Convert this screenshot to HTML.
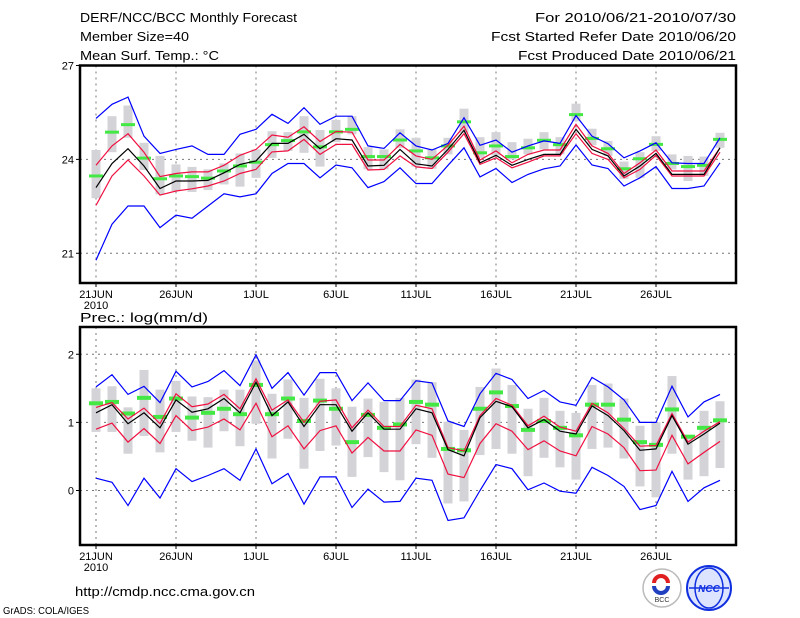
<!DOCTYPE html>
<html><head><meta charset="utf-8"><style>
html,body{margin:0;padding:0;background:#fff;width:800px;height:618px;overflow:hidden}
svg{display:block;font-family:"Liberation Sans",sans-serif}
</style></head><body>
<svg id="chart" width="800" height="618" viewBox="0 0 800 618" xmlns="http://www.w3.org/2000/svg">
<g font-size="13" fill="#000">
<text x="80" y="22" textLength="217" lengthAdjust="spacingAndGlyphs">DERF/NCC/BCC Monthly Forecast</text>
<text x="80" y="41" textLength="109" lengthAdjust="spacingAndGlyphs">Member Size=40</text>
<text x="80" y="60" textLength="139" lengthAdjust="spacingAndGlyphs">Mean Surf. Temp.: °C</text>
<text x="736" y="22" text-anchor="end" textLength="201" lengthAdjust="spacingAndGlyphs">For 2010/06/21-2010/07/30</text>
<text x="736" y="41" text-anchor="end" textLength="245" lengthAdjust="spacingAndGlyphs">Fcst Started Refer Date 2010/06/20</text>
<text x="736" y="60" text-anchor="end" textLength="218" lengthAdjust="spacingAndGlyphs">Fcst Produced Date 2010/06/21</text>
<text x="80" y="322" textLength="128" lengthAdjust="spacingAndGlyphs">Prec.: log(mm/d)</text>
<text x="75" y="596" textLength="180" lengthAdjust="spacingAndGlyphs">http://cmdp.ncc.cma.gov.cn</text>
<text x="3" y="614" font-size="10" textLength="86" lengthAdjust="spacingAndGlyphs">GrADS: COLA/IGES</text>
</g>
<g id="top"></g>
<g id="bot"></g>
<g>
<circle cx="662" cy="588" r="19" fill="#fff" stroke="#bbb" stroke-width="1.5"/>
<path d="M654 583 a7 7 0 0 1 14 0" fill="none" stroke="#e02020" stroke-width="4"/>
<path d="M668 586 a7 7 0 0 1 -14 0" fill="none" stroke="#2040c0" stroke-width="4"/>
<text x="662" y="602" font-size="7" text-anchor="middle" fill="#333">BCC</text>
</g>
<g>
<circle cx="709" cy="588" r="22" fill="#dde4ff" stroke="#1030e0" stroke-width="2"/>
<ellipse cx="709" cy="588" rx="14" ry="20" fill="none" stroke="#1030e0" stroke-width="1.5"/>
<line x1="689" y1="588" x2="729" y2="588" stroke="#1030e0" stroke-width="1.5"/>
<text x="709" y="592" font-size="10" font-style="italic" font-weight="bold" text-anchor="middle" fill="#1030e0">NCC</text>
</g>
</svg>
<script>
// ---- temperature data (°C) ----
const tBlueHi=[25.31,25.76,25.99,24.74,24.19,24.32,24.43,24.16,24.16,24.80,24.96,25.44,25.15,25.65,25.12,25.38,25.38,24.43,24.35,24.85,24.43,24.30,24.51,25.33,24.45,24.62,24.23,24.43,24.59,24.51,25.40,24.74,24.50,24.05,24.27,24.53,23.89,23.87,23.87,24.69];
const tBlueLo=[20.78,21.93,22.51,22.51,21.82,22.22,22.12,22.51,22.90,22.80,22.90,23.55,23.87,23.87,23.41,23.82,23.73,23.10,23.29,23.73,23.23,23.23,23.81,24.37,23.44,23.71,23.26,23.52,23.70,23.79,24.46,23.82,23.71,23.15,23.41,23.77,23.07,23.07,23.15,23.89];
const tRedHi=[23.81,24.43,24.82,24.23,23.45,23.55,23.60,23.60,23.81,24.13,24.32,24.78,24.71,25.04,24.57,24.89,24.87,23.98,23.98,24.48,24.11,24.00,24.45,25.06,23.98,24.27,23.89,24.16,24.30,24.30,25.12,24.43,24.19,23.55,23.89,24.30,23.63,23.63,23.63,24.37];
const tRedLo=[22.53,23.47,23.98,23.47,22.86,22.99,23.06,23.15,23.31,23.55,23.68,24.24,24.27,24.64,24.16,24.48,24.48,23.66,23.68,24.11,23.76,23.71,24.23,24.82,23.84,24.05,23.73,23.91,24.11,24.11,24.82,24.19,24.00,23.41,23.68,24.13,23.47,23.47,23.47,24.23];
const tMean=[23.10,23.87,24.34,23.79,23.07,23.31,23.31,23.33,23.57,23.84,23.95,24.51,24.51,24.80,24.34,24.66,24.62,23.79,23.81,24.32,23.86,23.79,24.32,24.93,23.89,24.13,23.81,24.00,24.16,24.16,24.96,24.32,24.11,23.47,23.79,24.19,23.52,23.52,23.52,24.37];
const tObs=[23.47,24.87,25.11,24.04,23.38,23.47,23.45,23.40,23.63,23.79,23.91,24.47,24.60,24.88,24.40,24.88,24.96,24.09,24.09,24.62,24.27,24.05,24.43,25.20,24.21,24.43,24.09,24.37,24.61,24.47,25.43,24.67,24.34,23.70,24.02,24.48,23.87,23.77,23.81,24.64];
const tBoxHi=[24.30,25.38,25.72,24.53,24.11,23.84,23.76,23.68,23.87,24.19,24.32,24.90,24.87,25.38,24.94,25.26,25.38,24.39,24.32,24.96,24.69,24.34,24.69,25.62,24.71,24.87,24.55,24.66,24.87,24.71,25.78,24.98,24.59,23.93,24.23,24.74,24.16,24.11,24.09,24.85];
const tBoxLo=[22.76,24.23,24.69,23.66,22.88,22.99,22.96,23.02,23.20,23.13,23.41,24.05,24.27,24.21,23.77,24.55,24.80,23.68,23.68,24.37,23.77,23.70,24.16,24.85,24.05,24.13,24.00,24.16,24.32,24.16,25.22,24.45,24.11,23.38,23.41,24.27,23.68,23.31,23.47,24.37];
const tTicks=[21,24,27];
// ---- precipitation data log(mm/d) ----
const pBlueHi=[1.52,1.70,1.41,1.53,1.29,1.75,1.52,1.60,1.76,1.54,1.99,1.50,1.73,1.40,1.73,1.73,1.32,1.58,1.32,1.32,1.61,1.58,1.02,0.94,1.42,1.72,1.63,1.35,1.47,1.30,1.25,1.66,1.52,1.33,1.00,1.00,1.53,1.08,1.30,1.41];
const pBlueLo=[0.18,0.12,-0.22,0.18,-0.11,0.32,0.13,0.22,0.32,0.15,0.61,0.10,0.25,-0.20,0.20,0.20,-0.25,0.02,-0.17,-0.16,0.18,0.15,-0.44,-0.40,0.00,0.38,0.32,0.01,0.11,-0.01,-0.04,0.34,0.22,0.06,-0.28,-0.22,0.28,-0.16,0.04,0.15];
const pRedHi=[1.22,1.29,1.05,1.21,0.98,1.42,1.23,1.27,1.41,1.20,1.64,1.18,1.33,1.00,1.31,1.33,0.92,1.18,0.94,0.94,1.25,1.20,0.63,0.58,1.10,1.35,1.25,0.95,1.09,0.93,0.87,1.28,1.14,0.91,0.65,0.66,1.13,0.71,0.87,1.01];
const pRedLo=[0.90,0.99,0.71,0.91,0.69,1.10,0.88,0.93,1.05,0.89,1.28,0.79,0.95,0.61,0.88,0.95,0.55,0.78,0.58,0.58,0.89,0.81,0.24,0.19,0.69,0.98,0.87,0.60,0.73,0.58,0.51,0.94,0.83,0.63,0.29,0.30,0.81,0.39,0.56,0.72];
const pMean=[1.14,1.26,0.98,1.14,0.92,1.33,1.15,1.20,1.35,1.14,1.59,1.10,1.30,0.94,1.26,1.26,0.87,1.14,0.90,0.90,1.20,1.14,0.60,0.51,1.07,1.31,1.23,0.92,1.04,0.87,0.83,1.24,1.10,0.88,0.59,0.61,1.10,0.68,0.83,0.99];
const pObs=[1.28,1.30,1.13,1.36,1.08,1.35,1.07,1.14,1.20,1.12,1.55,1.12,1.35,1.02,1.32,1.20,0.71,1.11,0.92,0.97,1.30,1.26,0.61,0.59,1.20,1.44,1.24,0.89,1.02,0.92,0.81,1.26,1.26,1.04,0.71,0.67,1.19,0.79,0.92,1.03];
const pBoxHi=[1.50,1.53,1.22,1.77,1.48,1.61,1.38,1.37,1.48,1.48,1.91,1.42,1.63,1.36,1.64,1.50,1.23,1.35,1.30,1.36,1.63,1.59,1.01,0.89,1.52,1.79,1.55,1.20,1.36,1.17,1.14,1.55,1.57,1.35,0.95,1.00,1.68,0.81,1.17,1.31];
const pBoxLo=[0.86,0.86,0.54,0.80,0.56,0.86,0.73,0.63,0.87,0.65,0.98,0.47,0.76,0.32,0.58,0.66,0.20,0.49,0.27,0.15,0.68,0.48,-0.19,-0.16,0.52,0.61,0.54,0.21,0.48,0.34,0.16,0.61,0.63,0.47,0.06,-0.10,0.54,0.16,0.21,0.33];
const pTicks=[0,1,2];
const xLabels=["21JUN","26JUN","1JUL","6JUL","11JUL","16JUL","21JUL","26JUL"];

const NS="http://www.w3.org/2000/svg";
function mk(parent,tag,attrs){const e=document.createElementNS(NS,tag);for(const k in attrs)e.setAttribute(k,attrs[k]);parent.appendChild(e);return e;}
const xs=i=>96+16*i;

function panel(g,y0,y1,vTop,vBot,ticks,d,prefix){
  const ys=v=>y0+(vTop-v)/(vTop-vBot)*(y1-y0);
  // grid
  for(let k=0;k<xLabels.length;k++){
    const x=xs(k*5);
    const gl=mk(g,'line',{x1:x,x2:x,y1:y0,y2:y1,stroke:'#777','stroke-dasharray':'2,4','stroke-width':1});
    
    
    const tk=mk(g,'line',{x1:x,x2:x,y1:y1,y2:y1+4,stroke:'#000','stroke-width':1});
    
    
    const t=mk(g,'text',{x:x,y:y1+15,'font-size':11,'text-anchor':'middle'});
    t.textContent=xLabels[k];
    
    
  }
  const yr=mk(g,'text',{x:96,y:y1+26,'font-size':11,'text-anchor':'middle'});
  yr.textContent='2010';
  
  
  ticks.forEach(v=>{
    const y=ys(v);
    const gl=mk(g,'line',{x1:80,x2:736,y1:y,y2:y,stroke:'#777','stroke-dasharray':'2,4','stroke-width':1});
    
    
    const tk=mk(g,'line',{x1:76,x2:80,y1:y,y2:y,stroke:'#000'});
    
    
    const t=mk(g,'text',{x:74,y:y+4,'font-size':11,'text-anchor':'end'});
    t.textContent=String(v);
    
    
  });
  // boxes
  d.boxHi.forEach((v,i)=>{
    const r=mk(g,'rect',{x:xs(i)-4.5,y:ys(v),width:9,height:ys(d.boxLo[i])-ys(v),fill:'#d3d3d8'});
    
    
  });
  // obs
  d.obs.forEach((v,i)=>{
    const r=mk(g,'rect',{x:xs(i)-7,y:ys(v)-d.obsH/2,width:14,height:d.obsH,fill:'#44e844'});
    
    
  });
  const line=(arr,col,name)=>{
    const p=mk(g,'polyline',{points:arr.map((v,i)=>xs(i)+','+ys(v).toFixed(1)).join(' '),fill:'none',stroke:col,'stroke-width':1.2});
    
    
  };
  line(d.blueHi,'#0000ff',prefix+'-max-line');
  line(d.blueLo,'#0000ff',prefix+'-min-line');
  line(d.redHi,'#f01040',prefix+'-upper-line');
  line(d.redLo,'#f01040',prefix+'-lower-line');
  line(d.mean,'#000000',prefix+'-mean-line');
  const f=mk(g,'rect',{x:80,y:y0,width:656,height:y1-y0,fill:'none',stroke:'#000','stroke-width':2.5});
  
  
}
panel(document.getElementById('top'),65.5,283,27,20.05,tTicks,
  {boxHi:tBoxHi,boxLo:tBoxLo,obs:tObs,obsH:3,blueHi:tBlueHi,blueLo:tBlueLo,redHi:tRedHi,redLo:tRedLo,mean:tMean},'temp');
panel(document.getElementById('bot'),327,545,2.4,-0.8,pTicks,
  {boxHi:pBoxHi,boxLo:pBoxLo,obs:pObs,obsH:4,blueHi:pBlueHi,blueLo:pBlueLo,redHi:pRedHi,redLo:pRedLo,mean:pMean},'precip');
</script>
</body></html>
